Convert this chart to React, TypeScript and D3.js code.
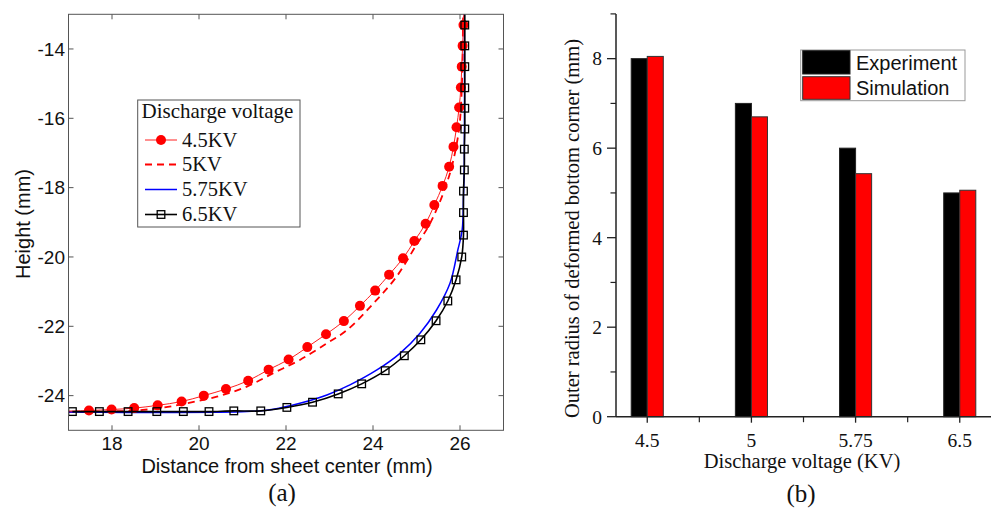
import React from "react";
import * as d3 from "d3";

// ---------- Panel (a) data ----------
const kv45X = [16.8, 17.47, 17.99, 18.51, 19.05, 19.6, 20.11, 20.62, 21.13, 21.6, 22.06, 22.49, 22.92, 23.33, 23.7, 24.05, 24.37, 24.69, 24.95, 25.21, 25.41, 25.6, 25.75, 25.85, 25.92, 25.98, 26.02, 26.04, 26.06, 26.08, 26.09];
const kv45Y = [-24.45, -24.43, -24.4, -24.36, -24.28, -24.17, -24.0, -23.81, -23.57, -23.25, -22.96, -22.6, -22.23, -21.85, -21.41, -20.97, -20.51, -20.04, -19.54, -19.04, -18.5, -17.95, -17.4, -16.82, -16.26, -15.69, -15.11, -14.51, -13.91, -13.31, -12.71];

const kv5X = [17.0, 18.34, 19.1, 19.72, 20.41, 21.1, 21.71, 22.32, 22.94, 23.4, 24.01, 24.54, 25.0, 25.27, 25.49, 25.67, 25.81, 25.92, 25.99, 26.03, 26.06, 26.07, 26.08];
const kv5Y = [-24.47, -24.44, -24.36, -24.22, -24.03, -23.74, -23.35, -22.97, -22.49, -22.11, -21.34, -20.57, -19.65, -19.13, -18.55, -17.97, -17.4, -16.77, -16.19, -15.47, -14.32, -13.16, -12.9];

const kv575X = [17.0, 21.1, 21.71, 22.32, 22.94, 23.47, 24.09, 24.62, 25.08, 25.46, 25.77, 25.95, 26.05, 26.08, 26.1, 26.1];
const kv575Y = [-24.47, -24.46, -24.39, -24.22, -23.98, -23.69, -23.26, -22.78, -22.2, -21.53, -20.76, -19.8, -19.22, -18.26, -17.2, -12.9];

const kv65X = [17.09, 17.71, 18.37, 19.03, 19.64, 20.23, 20.8, 21.42, 22.02, 22.61, 23.2, 23.74, 24.28, 24.72, 25.1, 25.45, 25.72, 25.91, 26.04, 26.08, 26.08, 26.08, 26.1, 26.1, 26.11, 26.11, 26.11, 26.11, 26.11, 26.11, 26.11];
const kv65Y = [-24.46, -24.46, -24.46, -24.46, -24.46, -24.46, -24.44, -24.44, -24.34, -24.19, -23.95, -23.66, -23.28, -22.85, -22.39, -21.84, -21.27, -20.66, -20.0, -19.37, -18.72, -18.1, -17.49, -16.89, -16.31, -15.71, -15.12, -14.51, -13.91, -13.31, -12.71];

const aXTicks = [18, 20, 22, 24, 26];
const aYTicks = [-24, -22, -20, -18, -16, -14];
const aLegendTitle = "Discharge voltage";
const aLegendLabels = ["4.5KV", "5KV", "5.75KV", "6.5KV"];

// ---------- Panel (b) data ----------
const voltages = ["4.5", "5", "5.75", "6.5"];
const experiment = [8.0, 7.0, 6.0, 5.0];
const simulation = [8.05, 6.7, 5.43, 5.06];
const bYTicks = [0, 2, 4, 6, 8];
const bYMinor = [1, 3, 5, 7, 9];
const bLegend = ["Experiment", "Simulation"];

const SANS = "'Liberation Sans', Arial, sans-serif";
const SERIF = "'Liberation Serif', 'Times New Roman', serif";

function zip(xs: number[], ys: number[]): [number, number][] {
  return xs.map((x, i) => [x, ys[i]]);
}

function PanelA() {
  const L = 68.5, R = 503.5, T = 14.3, B = 430.3;
  const x = d3.scaleLinear().domain([17, 27]).range([L, R]);
  const y = d3.scaleLinear().domain([-25, -13]).range([B, T]);
  const line = d3
    .line<[number, number]>()
    .x((d) => x(d[0]))
    .y((d) => y(d[1]))
    .curve(d3.curveCatmullRom.alpha(0.5));
  const s45 = zip(kv45X, kv45Y);
  const s5 = zip(kv5X, kv5Y);
  const s575 = zip(kv575X, kv575Y);
  const s65 = zip(kv65X, kv65Y);
  const frame = "#555";
  const tl = 5;
  const legY = [140, 164.5, 189.5, 214.5];
  return (
    <g>
      <defs>
        <clipPath id="clipA">
          <rect x={L} y={T} width={R - L} height={B - T} />
        </clipPath>
      </defs>
      <g clipPath="url(#clipA)">
        <path d={line(s5) || ""} fill="none" stroke="#ff0000" strokeWidth={1.8} strokeDasharray="7,5" />
        <path d={line(s575) || ""} fill="none" stroke="#0000ff" strokeWidth={1.5} />
        <path d={line(s45) || ""} fill="none" stroke="#ff2020" strokeWidth={1} />
        {s45.map((d, i) => (
          <circle key={"c" + i} cx={x(d[0])} cy={y(d[1])} r={5} fill="#ff0000" />
        ))}
        <path d={line(s65) || ""} fill="none" stroke="#000" strokeWidth={1.6} />
        {s65.map((d, i) => (
          <rect key={"s" + i} x={x(d[0]) - 3.8} y={y(d[1]) - 3.8} width={7.6} height={7.6} fill="none" stroke="#000" strokeWidth={1.3} />
        ))}
      </g>
      <rect x={L} y={T} width={R - L} height={B - T} fill="none" stroke={frame} strokeWidth={1} />
      {aXTicks.map((t) => (
        <g key={"xt" + t}>
          <line x1={x(t)} x2={x(t)} y1={B} y2={B - tl} stroke={frame} />
          <line x1={x(t)} x2={x(t)} y1={T} y2={T + tl} stroke={frame} />
          <text x={x(t)} y={450} textAnchor="middle" fontFamily={SANS} fontSize={19} fill="#111">
            {t}
          </text>
        </g>
      ))}
      {aYTicks.map((t) => (
        <g key={"yt" + t}>
          <line x1={L} x2={L + tl} y1={y(t)} y2={y(t)} stroke={frame} />
          <line x1={R} x2={R - tl} y1={y(t)} y2={y(t)} stroke={frame} />
          <text x={65} y={y(t)} dy="0.35em" textAnchor="end" fontFamily={SANS} fontSize={19} fill="#111">
            {t}
          </text>
        </g>
      ))}
      <text x={287} y={473} textAnchor="middle" fontFamily={SANS} fontSize={20} fill="#111">
        Distance from sheet center (mm)
      </text>
      <text transform="translate(30,224) rotate(-90)" textAnchor="middle" fontFamily={SANS} fontSize={20} fill="#111">
        Height (mm)
      </text>
      <text x={282} y={501} textAnchor="middle" fontFamily={SERIF} fontSize={25} fill="#111">
        (a)
      </text>
      {/* legend */}
      <rect x={137.7} y={100} width={162.3} height={127} fill="#fff" stroke={frame} strokeWidth={1} />
      <text x={141.5} y={118} fontFamily={SERIF} fontSize={21} fill="#111">
        {aLegendTitle}
      </text>
      {aLegendLabels.map((lab, i) => (
        <text key={lab} x={182} y={legY[i] + 6.7} fontFamily={SERIF} fontSize={20.5} fill="#111">
          {lab}
        </text>
      ))}
      <line x1={145} x2={177} y1={legY[0]} y2={legY[0]} stroke="#ff2020" strokeWidth={1} />
      <circle cx={161} cy={legY[0]} r={5} fill="#ff0000" />
      <line x1={145} x2={177} y1={legY[1]} y2={legY[1]} stroke="#ff0000" strokeWidth={1.8} strokeDasharray="7,5" />
      <line x1={145} x2={177} y1={legY[2]} y2={legY[2]} stroke="#0000ff" strokeWidth={1.5} />
      <line x1={145} x2={177} y1={legY[3]} y2={legY[3]} stroke="#000" strokeWidth={1.6} />
      <rect x={161 - 3.8} y={legY[3] - 3.8} width={7.6} height={7.6} fill="none" stroke="#000" strokeWidth={1.3} />
    </g>
  );
}

function PanelB() {
  const L = 616, R = 991, T = 13.9, B = 416.7;
  const xi = d3.scaleLinear().domain([0.7, 4.3]).range([L, R]);
  const y = d3.scaleLinear().domain([0, 9]).range([B, T]);
  const bw = 0.154;
  const ax = "#222";
  return (
    <g>
      {voltages.map((v, i) => {
        const c = i + 1;
        return (
          <g key={"bar" + v}>
            <rect x={xi(c - bw)} y={y(experiment[i])} width={xi(c) - xi(c - bw)} height={B - y(experiment[i])} fill="#000" stroke="#222" strokeWidth={1} />
            <rect x={xi(c)} y={y(simulation[i])} width={xi(c + bw) - xi(c)} height={B - y(simulation[i])} fill="#ff0000" stroke="#333" strokeWidth={1} />
          </g>
        );
      })}
      <line x1={L} x2={L} y1={T} y2={B} stroke={ax} strokeWidth={1.5} />
      <line x1={L} x2={R} y1={B} y2={B} stroke={ax} strokeWidth={1.5} />
      {bYTicks.map((t) => (
        <g key={"by" + t}>
          <line x1={L - 9} x2={L} y1={y(t)} y2={y(t)} stroke={ax} strokeWidth={1.3} />
          <text x={602} y={y(t)} dy="0.35em" textAnchor="end" fontFamily={SERIF} fontSize={19.5} fill="#111">
            {t}
          </text>
        </g>
      ))}
      {bYMinor.map((t) => (
        <line key={"bym" + t} x1={L - 5.5} x2={L} y1={y(t)} y2={y(t)} stroke={ax} strokeWidth={1.2} />
      ))}
      {voltages.map((v, i) => (
        <g key={"bx" + v}>
          <line x1={xi(i + 1)} x2={xi(i + 1)} y1={B} y2={B + 6} stroke={ax} strokeWidth={1.3} />
          <text x={xi(i + 1)} y={447} textAnchor="middle" fontFamily={SERIF} fontSize={19.5} fill="#111">
            {v}
          </text>
        </g>
      ))}
      {[1.5, 2.5, 3.5].map((t) => (
        <line key={"bxm" + t} x1={xi(t)} x2={xi(t)} y1={B} y2={B + 5.5} stroke={ax} strokeWidth={1.2} />
      ))}
      <text x={802} y={468} textAnchor="middle" fontFamily={SERIF} fontSize={20.5} fill="#111">
        Discharge voltage (KV)
      </text>
      <text transform="translate(579,228.5) rotate(-90)" textAnchor="middle" fontFamily={SERIF} fontSize={20.5} fill="#111">
        Outer radius of deformed bottom corner (mm)
      </text>
      <text x={801} y={502} textAnchor="middle" fontFamily={SERIF} fontSize={25} fill="#111">
        (b)
      </text>
      {/* legend */}
      <rect x={800.7} y={50} width={164.3} height={50.7} fill="#fff" stroke="#999" strokeWidth={1} />
      <rect x={802.7} y={50.7} width={47.3} height={23.3} fill="#000" stroke="#222" strokeWidth={1} />
      <rect x={802.7} y={76.7} width={47.3} height={22.6} fill="#ff0000" stroke="#333" strokeWidth={1} />
      <text x={856} y={70} fontFamily={SANS} fontSize={20} fill="#111">
        {bLegend[0]}
      </text>
      <text x={856} y={95} fontFamily={SANS} fontSize={20} fill="#111">
        {bLegend[1]}
      </text>
    </g>
  );
}

export default function App() {
  return (
    <svg
      width={993}
      height={508}
      viewBox="0 0 993 508"
      style={{ position: "absolute", left: 0, top: 0, background: "#fff" }}
    >
      <rect x={0} y={0} width={993} height={508} fill="#fff" />
      <PanelA />
      <PanelB />
    </svg>
  );
}
